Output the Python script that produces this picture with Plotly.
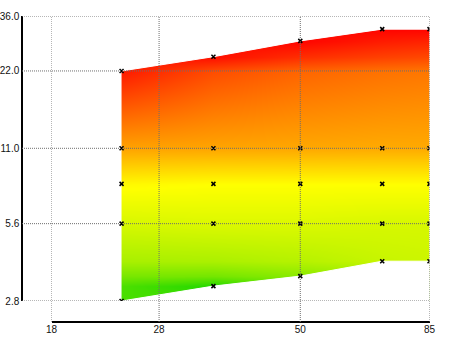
import math
import plotly.graph_objects as go

# ---- data ----
x_cols = [24, 35, 50, 70, 85]

y_top    = [22.0, 25.0, 28.8, 32.0, 32.0]
y_row11  = [11.0, 11.0, 11.0, 11.0, 11.0]
y_row8   = [8.0, 8.0, 8.0, 8.0, 8.0]
y_row56  = [5.6, 5.6, 5.6, 5.6, 5.6]
y_bottom = [2.8, 3.2, 3.5, 4.0, 4.0]

z_top    = [0.95, 0.97, 0.99, 0.99, 0.99]
z_row11  = [0.68, 0.675, 0.67, 0.665, 0.665]
z_row8   = [0.51, 0.50, 0.50, 0.50, 0.50]
z_row56  = [0.42, 0.43, 0.43, 0.42, 0.42]
z_bottom = [0.14, 0.07, 0.27, 0.39, 0.40]

x_ticks = [18, 28, 50, 85]
x_tick_labels = ["18", "28", "50", "85"]
y_ticks = [2.8, 5.6, 11.0, 22.0, 36.0]
y_tick_labels = ["2.8", "5.6", "11.0", "22.0", "36.0"]

colorscale = [[0.0, "rgb(0,210,0)"], [0.5, "rgb(255,255,0)"], [1.0, "rgb(255,0,0)"]]

# ---- layout geometry ----
W, H = 450, 337
x_dom = [51.5 / W, 429.5 / W]
y_dom = [(H - 301) / H, (H - 16) / H]
xaxis_pos = (H - 322) / H
yaxis_pos = 22 / W

rows_y = [y_bottom, y_row56, y_row8, y_row11, y_top]
rows_z = [z_bottom, z_row56, z_row8, z_row11, z_top]
px, py, pz = [], [], []
for ry, rz in zip(rows_y, rows_z):
    for xv, yv, zv in zip(x_cols, ry, rz):
        px.append(xv)
        py.append(yv)
        pz.append(zv)

fig = go.Figure()

fig.add_trace(go.Contour(
    x=px, y=py, z=pz,
    colorscale=colorscale, zmin=0, zmax=1, zauto=False,
    contours=dict(coloring="heatmap", showlines=False),
    line=dict(width=0), showscale=False, connectgaps=True,
    hoverinfo="skip",
))

# white masks outside the band (built from the boundary rows)
fig.add_trace(go.Scatter(
    x=x_cols + [x_cols[-1], x_ticks[0], x_ticks[0]],
    y=y_top + [y_ticks[-1], y_ticks[-1], y_top[0]],
    mode="lines", fill="toself", fillcolor="white",
    line=dict(width=1, color="white"), hoverinfo="skip",
))
fig.add_trace(go.Scatter(
    x=x_cols + [x_cols[-1], x_ticks[0], x_ticks[0]],
    y=y_bottom + [y_ticks[0], y_ticks[0], y_bottom[0]],
    mode="lines", fill="toself", fillcolor="white",
    line=dict(width=1, color="white"), hoverinfo="skip",
))

# grid lines drawn above the fill
shapes = []
for xv in x_ticks:
    shapes.append(dict(type="line", xref="x", yref="paper", x0=xv, x1=xv,
                       y0=xaxis_pos, y1=y_dom[1], layer="above",
                       line=dict(color="#6e6e6e", width=1, dash="1px,1px")))
for yv in y_ticks:
    shapes.append(dict(type="line", xref="paper", yref="y", x0=yaxis_pos, x1=x_dom[1],
                       y0=yv, y1=yv, layer="above",
                       line=dict(color="#6e6e6e", width=1, dash="1px,1px")))

# markers
fig.add_trace(go.Scatter(
    x=px, y=py, mode="markers",
    marker=dict(symbol="x-thin", size=4, line=dict(width=1.5, color="black"), color="black"),
    hoverinfo="skip",
))

font = dict(family="Liberation Sans Narrow, Liberation Sans, Arial", size=10, color="#111")
fig.update_layout(
    width=W, height=H, margin=dict(l=0, r=0, t=0, b=0),
    paper_bgcolor="white", plot_bgcolor="white", showlegend=False,
    font=font, shapes=shapes,
    xaxis=dict(type="log", range=[math.log10(18), math.log10(85)], domain=x_dom,
               anchor="free", position=xaxis_pos, showgrid=False, zeroline=False,
               showline=True, linecolor="black", linewidth=1.5,
               tickvals=x_ticks, ticktext=x_tick_labels, ticks="", automargin=False,
               ticklabelstandoff=-2, tickfont=font),
    yaxis=dict(type="log", range=[math.log10(2.8), math.log10(36)], domain=y_dom,
               anchor="free", position=yaxis_pos, showgrid=False, zeroline=False,
               showline=True, linecolor="black", linewidth=1.5,
               tickvals=y_ticks, ticktext=y_tick_labels, ticks="", automargin=False,
               tickfont=font),
)

fig.write_html("out.html")
